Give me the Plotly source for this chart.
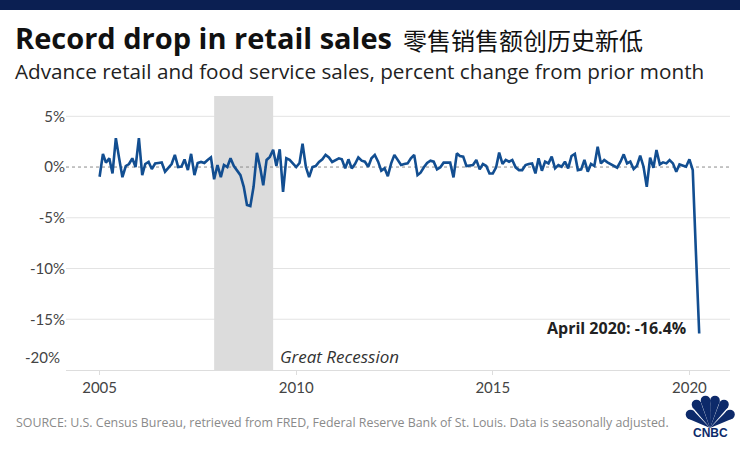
import pandas as pd
import plotly.graph_objects as go

# ---------------- data ----------------
start_month = "2005-01-01"
pct_change = [
    # 2005
    -0.96, 1.29, 0.43, 0.86, -0.63, 2.84, 0.90, -1.00, 0.10, 0.30, 0.86, 0.00,
    # 2006
    2.84, -0.80, 0.30, 0.50, -0.20, 0.35, 0.40, 0.45, -0.45, -0.10, 0.30, 1.20,
    # 2007
    0.00, 0.05, 0.75, -0.30, 1.30, -0.80, 0.40, 0.50, 0.40, 0.70, 0.95, -1.20,
    # 2008
    0.20, -1.00, 0.20, 0.00, 0.86, 0.10, -0.30, -0.80, -1.95, -3.75, -3.85, -1.95,
    # 2009
    1.40, -0.10, -1.80, 0.70, 1.00, 1.70, 0.10, 1.75, -2.45, 0.86, 0.70, 0.30,
    # 2010
    0.00, 0.40, 2.30, 0.00, -1.00, 0.00, 0.10, 0.50, 0.76, 1.20, 0.95, 0.50,
    # 2011
    0.70, 0.86, 0.76, -0.13, 0.76, -0.13, 0.30, 0.95, 0.63, 0.53, 0.03, 0.86,
    # 2012
    1.20, 0.53, -0.36, -0.13, -0.90, 0.36, 1.20, 0.70, 0.20, 0.30, 0.36, 0.86,
    # 2013
    1.20, -0.80, -0.56, -0.03, 0.40, 0.63, 0.53, -0.23, -0.03, 0.43, 0.46, 0.43,
    # 2014
    -1.02, 1.35, 1.09, 1.02, 0.10, 0.16, 0.20, 0.70, -0.23, 0.30, 0.10, -0.63,
    # 2015
    -0.63, -0.03, 1.42, 0.30, 0.70, 0.53, 0.70, -0.03, -0.30, -0.30, 0.20, 0.30,
    # 2016
    0.36, -0.63, 0.86, -0.36, 0.53, 0.36, 1.02, -0.13, 0.20, 0.03, 0.53, -0.13,
    # 2017
    1.09, 1.29, -0.30, -0.23, 0.70, -0.46, 0.30, 0.10, 2.01, 0.36, 0.69, 0.46,
    # 2018
    0.26, 0.13, -0.07, 0.53, 1.25, 0.36, 0.53, -0.20, 0.13, 1.12, 0.03, -1.95,
    # 2019
    0.92, -0.07, 1.68, 0.26, 0.46, 0.36, 0.69, 0.36, -0.46, 0.26, 0.13, 0.03,
    # 2020
    0.76, -0.30, -8.30, -16.40,
]
months = pd.date_range(start_month, periods=len(pct_change), freq="MS")

recession_start = "2007-12-01"
recession_end = "2009-06-01"

y_tick_values = [5, 0, -5, -10, -15]
y_tick_labels = ["5%", "0%", "-5%", "-10%", "-15%"]
grid_values = [5, -5, -10, -15]
x_tick_dates = ["2005-01-01", "2010-01-01", "2015-01-01", "2020-01-01"]
x_tick_labels = ["2005", "2010", "2015", "2020"]

last_label = "April 2020: -16.4%"

# ---------------- layout helpers ----------------
W, H = 740, 451
L, R, T, B = 66, 10, 96, 81
PW, PH = W - L - R, H - T - B


def px(x):
    return (x - L) / PW


def py(y):
    return (H - B - y) / PH


FONT = "Open Sans"
TICKFONT = "Lato"
NAVY = "#0d2a6a"
LINE = "#124e91"

fig = go.Figure()
fig.add_trace(go.Scatter(
    x=months, y=pct_change, mode="lines",
    line=dict(color=LINE, width=2.6),
    hoverinfo="skip", showlegend=False,
))

shapes = []
for g in grid_values:
    shapes.append(dict(type="line", xref="x domain", x0=0, x1=1, yref="y", y0=g, y1=g,
                       line=dict(color="#e3e3e3", width=1), layer="below"))
shapes.append(dict(type="rect", xref="x", x0=recession_start, x1=recession_end,
                   yref="paper", y0=0, y1=1, fillcolor="#dcdcdc",
                   line=dict(width=0), layer="below"))
shapes.append(dict(type="line", xref="x domain", x0=0, x1=1, yref="y", y0=0, y1=0,
                   line=dict(color="#8c8c8c", width=1, dash="3px,3px"), layer="below"))
# top navy band
shapes.append(dict(type="rect", xref="paper", yref="paper", x0=px(-5), x1=px(745),
                   y0=py(-5), y1=py(10), fillcolor="#0b1f52", line=dict(width=0), layer="above"))

# CNBC peacock (approximate)
base = (710.0, 428.0)
tips = [(690.5, 414.5), (696.5, 404.5), (705.5, 400.5), (715.0, 400.5), (724.0, 404.5), (730.0, 414.5)]
r = 4.8
for (tx, ty) in tips:
    dx, dy = tx - base[0], ty - base[1]
    n = (dx * dx + dy * dy) ** 0.5
    ux, uy = dx / n, dy / n
    pxp, pyp = -uy, ux
    a = (tx + pxp * r, ty + pyp * r)
    b2 = (tx - pxp * r, ty - pyp * r)
    path = "M {} {} L {} {} L {} {} Z".format(
        px(base[0]), py(base[1]), px(a[0]), py(a[1]), px(b2[0]), py(b2[1]))
    shapes.append(dict(type="path", xref="paper", yref="paper", path=path,
                       fillcolor=NAVY, line=dict(width=0), layer="above"))
    shapes.append(dict(type="circle", xref="paper", yref="paper",
                       x0=px(tx - r), x1=px(tx + r), y0=py(ty + r), y1=py(ty - r),
                       fillcolor=NAVY, line=dict(width=0), layer="above"))

annotations = [
    dict(text="Record drop in retail sales", xref="paper", yref="paper",
         x=px(13), y=py(38), xanchor="left", yanchor="middle", showarrow=False,
         font=dict(family=FONT, size=29, color="#111111", weight="bold")),
    dict(text="零售销售额创历史新低", xref="paper", yref="paper",
         x=px(401), y=py(39), xanchor="left", yanchor="middle", showarrow=False,
         font=dict(family="Noto Sans CJK SC", size=24, color="#111111")),
    dict(text="Advance retail and food service sales, percent change from prior month",
         xref="paper", yref="paper", x=px(13), y=py(71), xanchor="left", yanchor="middle",
         showarrow=False, font=dict(family=FONT, size=20.7, color="#222222")),
    dict(text="-20%", xref="paper", yref="y", x=px(62), y=-20, yshift=13,
         xanchor="right", yanchor="middle", showarrow=False,
         font=dict(family=TICKFONT, size=15, color="#444444")),
    dict(text="<i>Great Recession</i>", xref="x", yref="y", x=recession_end, y=-18.7,
         xshift=5, xanchor="left", yanchor="middle", showarrow=False,
         font=dict(family=FONT, size=17, color="#333333")),
    dict(text="<b>" + last_label + "</b>", xref="x", yref="y", x=months[-1], y=pct_change[-1],
         xshift=-11, yshift=5, xanchor="right", yanchor="middle", showarrow=False,
         font=dict(family=FONT, size=16, color="#222222")),
    dict(text="SOURCE: U.S. Census Bureau, retrieved from FRED, Federal Reserve Bank of St. Louis. Data is seasonally adjusted.",
         xref="paper", yref="paper", x=px(14), y=py(422), xanchor="left", yanchor="middle",
         showarrow=False, font=dict(family=FONT, size=12.4, color="#8a8a8a")),
    dict(text="<b>CNBC</b>", xref="paper", yref="paper", x=px(710), y=py(433),
         xanchor="center", yanchor="middle", showarrow=False,
         font=dict(family="Liberation Sans", size=12, color=NAVY)),
]

fig.update_layout(
    width=W, height=H,
    margin=dict(l=L, r=R, t=T, b=B, pad=0),
    paper_bgcolor="white", plot_bgcolor="white",
    shapes=shapes, annotations=annotations,
    showlegend=False,
    xaxis=dict(type="date", range=["2004-02-24", "2021-01-12"],
               tickvals=x_tick_dates, ticktext=x_tick_labels,
               showgrid=False, zeroline=False, showline=True, linecolor="#dddddd", linewidth=1,
               ticks="outside", ticklen=4, tickcolor="#dddddd",
               tickfont=dict(family=TICKFONT, size=15, color="#444444")),
    yaxis=dict(range=[-20, 7], tickvals=y_tick_values, ticktext=y_tick_labels,
               showgrid=False, zeroline=False, showline=False, ticks="",
               tickfont=dict(family=TICKFONT, size=15, color="#444444")),
)

fig.write_html("out.html", config={"displayModeBar": False},
               post_script="document.body.style.margin='0px';")
